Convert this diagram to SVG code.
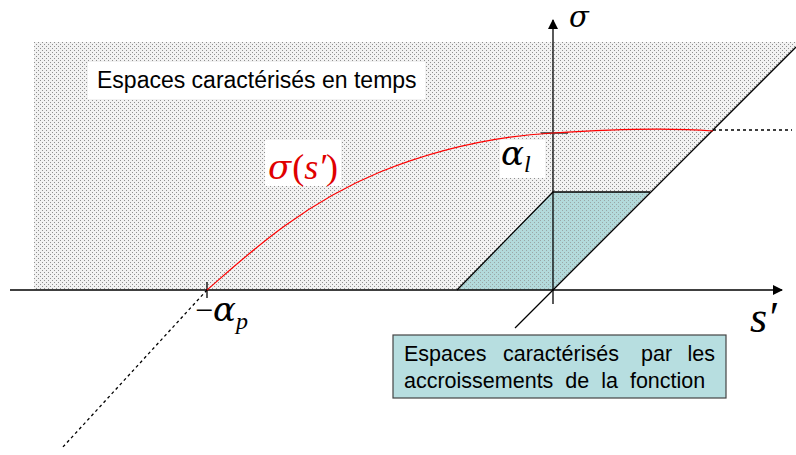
<svg xmlns="http://www.w3.org/2000/svg" width="796" height="455" viewBox="0 0 796 455">
<defs>
<pattern id="dots" width="4" height="4" patternUnits="userSpaceOnUse">
<rect x="0" y="0" width="1" height="1" fill="#8f8f8f"/>
<rect x="2" y="2" width="1" height="1" fill="#8f8f8f"/>
</pattern>
<marker id="arr" markerWidth="10" markerHeight="10" refX="9" refY="5" orient="auto" markerUnits="userSpaceOnUse">
<path d="M0,0 L10,5 L0,10 z" fill="#000"/>
</marker>
</defs>
<style>
.ln{stroke:#000;stroke-width:1.3;fill:none}
.dash{stroke:#000;stroke-width:1.3;fill:none;stroke-dasharray:3,3}
.sans{font-family:"Liberation Sans",Arial,sans-serif;fill:#000}
.gr{font-family:"DejaVu Serif","Liberation Serif",serif;font-style:italic}
.it{font-family:"Liberation Serif","Times New Roman",serif;font-style:italic}
.rm{font-family:"Liberation Serif","Times New Roman",serif;font-style:normal}
</style>
<rect width="796" height="455" fill="#fff"/>
<g id="zone-temps">
<polygon points="34,42 796,42 796,47 553,290 34,290" fill="#f2f2f2"/>
<polygon points="34,42 796,42 796,47 553,290 34,290" fill="url(#dots)"/>
</g>
<g id="zone-accroissements">
<polygon points="457,290 553,192 650,192 553,290" fill="#b3dadb"/>
<polygon points="457,290 553,192 650,192 553,290" fill="url(#dots)" opacity="0.7"/>
</g>
<g id="label-temps">
<rect x="88" y="62" width="337" height="37" fill="#fff"/>
<text class="sans" x="97" y="88" font-size="23">Espaces caractérisés en temps</text>
</g>
<g id="label-sigma-s">
<rect x="265" y="140" width="76" height="46" fill="#fff"/>
<text x="268" y="179" fill="#e00000"><tspan class="gr" font-size="34">σ</tspan><tspan class="rm" font-size="36" dx="1">(</tspan><tspan class="it" font-size="36">s′</tspan><tspan class="rm" font-size="36">)</tspan></text>
</g>
<g id="label-alpha-l">
<rect x="500" y="140" width="45" height="38" fill="#fff"/>
<text x="501" y="165" fill="#000"><tspan class="gr" font-size="34">α</tspan><tspan class="it" font-size="24" dy="7">l</tspan></text>
</g>
<g id="connectors">
<line class="ln" x1="10" y1="290" x2="782" y2="290" marker-end="url(#arr)"/>
<line class="ln" x1="553" y1="304" x2="553" y2="20" marker-end="url(#arr)"/>
<line class="ln" x1="515" y1="328" x2="796" y2="47"/>
<polyline class="ln" points="457,290 553,192 650,192"/>
<line class="dash" x1="207" y1="290" x2="62" y2="448"/>
<line class="dash" x1="713" y1="130" x2="792" y2="130"/>
<line stroke="#000" stroke-width="1.3" x1="207" y1="282" x2="207" y2="298"/>
<line stroke="#333" stroke-width="1.5" x1="541" y1="133" x2="568" y2="133"/>
<path d="M207,290 C245,257 300,205 380,172 C440,148 500,136 553,133 C600,130 660,127 713,131" fill="none" stroke="#ff0000" stroke-width="1.2"/>
</g>
<g id="label-sigma">
<text class="gr" x="569" y="27" font-size="29" fill="#000">σ</text>
</g>
<g id="label-alpha-p">
<text x="195" y="321" fill="#000"><tspan class="rm" font-size="32">−</tspan><tspan class="gr" font-size="34">α</tspan><tspan class="it" font-size="24" dy="8">p</tspan></text>
</g>
<g id="label-s">
<text class="it" x="750" y="332" font-size="44" fill="#000">s′</text>
</g>
<g id="box-accroissements">
<rect x="393" y="335" width="333" height="63" fill="#b7dee0" stroke="#444" stroke-width="1.2"/>
<text class="sans" font-size="21.5" y="361"><tspan x="404">Espaces</tspan><tspan x="503">caractérisés</tspan><tspan x="641">par</tspan></text>
<text class="sans" font-size="21.5" y="361" x="715" text-anchor="end">les</text>
<text class="sans" font-size="21.5" y="388" word-spacing="6"><tspan x="404">accroissements de la fonction</tspan></text>
</g>
</svg>
